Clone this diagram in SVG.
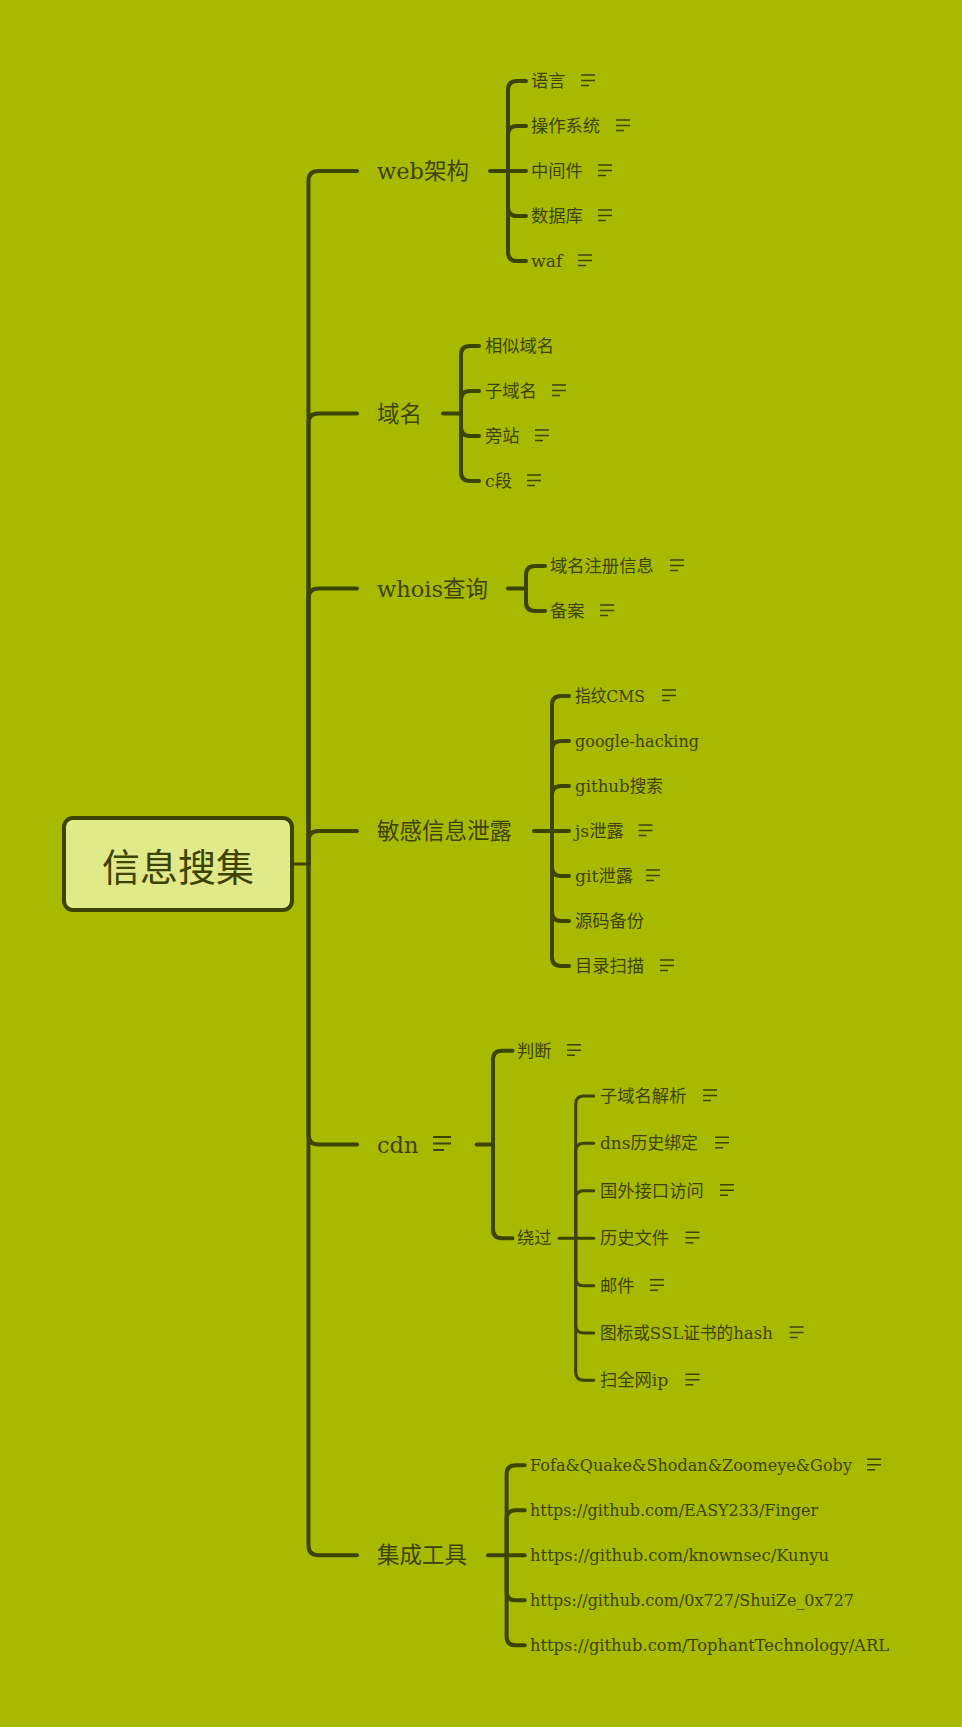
<svg xmlns="http://www.w3.org/2000/svg" xmlns:xlink="http://www.w3.org/1999/xlink" width="962" height="1727" viewBox="0 0 962 1727">
<style>
.bg{fill:#A8BA00}
.ln{fill:none;stroke:#3D4300;stroke-linecap:round;stroke-linejoin:round}
.l1{stroke-width:4}
.l2{stroke-width:4}
.l3{stroke-width:3}
.t{font-family:"DejaVu Serif","Noto Sans CJK SC",serif;fill:#3D4300;dominant-baseline:central}
.b{font-size:22.5px}
.c{font-size:17.3px}
.root{font-family:"Noto Sans CJK SC",sans-serif;font-size:38px;fill:#3D4300;text-anchor:middle;dominant-baseline:central}
.nt{fill:none;stroke:#3D4300;stroke-width:1.5}
.ntb{fill:none;stroke:#3D4300;stroke-width:2}
</style>
<defs>
<g id="note"><path class="nt" d="M0,-6 H14 M0,-0.5 H14 M0,4.5 H8"/></g>
<g id="noteb"><path class="ntb" d="M0,-7 H18 M0,-0.5 H18 M0,6 H11"/></g>
</defs>
<rect class="bg" x="0" y="0" width="962" height="1727"/>
<g id="connectors">
<path class="ln l3" d="M292,864 H308.5"/>
<path class="ln l1" d="M308.5,864 V181 Q308.5,171 318.5,171 H357"/>
<path class="ln l1" d="M308.5,864 V423 Q308.5,413.5 318.5,413.5 H357"/>
<path class="ln l1" d="M308.5,864 V598.5 Q308.5,588.5 318.5,588.5 H357"/>
<path class="ln l1" d="M308.5,864 V841 Q308.5,831 318.5,831 H357"/>
<path class="ln l1" d="M308.5,864 V1134.5 Q308.5,1144.5 318.5,1144.5 H357"/>
<path class="ln l1" d="M308.5,864 V1545.3 Q308.5,1555.3 318.5,1555.3 H357"/>
<!-- web -->
<path class="ln l2" d="M490,171 H526"/>
<path class="ln l2" d="M508,171 V90 Q508,81 517,81 H526"/>
<path class="ln l2" d="M508,171 V135 Q508,126 517,126 H526"/>
<path class="ln l2" d="M508,171 V207 Q508,216 517,216 H526"/>
<path class="ln l2" d="M508,171 V252 Q508,261 517,261 H526"/>
<!-- domain -->
<path class="ln l2" d="M443,413.5 H461"/>
<path class="ln l2" d="M461,413.5 V355 Q461,346 470,346 H479"/>
<path class="ln l2" d="M461,413.5 V400 Q461,391 470,391 H479"/>
<path class="ln l2" d="M461,413.5 V427 Q461,436 470,436 H479"/>
<path class="ln l2" d="M461,413.5 V472 Q461,481 470,481 H479"/>
<!-- whois -->
<path class="ln l2" d="M508,588.5 H526"/>
<path class="ln l2" d="M526,588.5 V575 Q526,566 535,566 H545"/>
<path class="ln l2" d="M526,588.5 V602 Q526,611 535,611 H545"/>
<!-- sensitive -->
<path class="ln l2" d="M534,831 H569"/>
<path class="ln l2" d="M552,831 V705 Q552,696 561,696 H569"/>
<path class="ln l2" d="M552,831 V750 Q552,741 561,741 H569"/>
<path class="ln l2" d="M552,831 V795 Q552,786 561,786 H569"/>
<path class="ln l2" d="M552,831 V867 Q552,876 561,876 H569"/>
<path class="ln l2" d="M552,831 V912 Q552,921 561,921 H569"/>
<path class="ln l2" d="M552,831 V957 Q552,966 561,966 H569"/>
<!-- cdn -->
<path class="ln l2" d="M476.6,1144.5 H493"/>
<path class="ln l2" d="M493,1144.5 V1059.7 Q493,1050.7 502,1050.7 H512.5"/>
<path class="ln l2" d="M493,1144.5 V1229.3 Q493,1238.3 502,1238.3 H512.5"/>
<path class="ln l3" d="M559,1238.3 H593.7"/>
<path class="ln l3" d="M575.7,1238.3 V1104 Q575.7,1096 583.7,1096 H593.7"/>
<path class="ln l3" d="M575.7,1238.3 V1151.3 Q575.7,1143.3 583.7,1143.3 H593.7"/>
<path class="ln l3" d="M575.7,1238.3 V1198.7 Q575.7,1190.7 583.7,1190.7 H593.7"/>
<path class="ln l3" d="M575.7,1238.3 V1277.7 Q575.7,1285.7 583.7,1285.7 H593.7"/>
<path class="ln l3" d="M575.7,1238.3 V1325 Q575.7,1333 583.7,1333 H593.7"/>
<path class="ln l3" d="M575.7,1238.3 V1372.3 Q575.7,1380.3 583.7,1380.3 H593.7"/>
<!-- tools -->
<path class="ln l2" d="M488,1555.3 H524.7"/>
<path class="ln l2" d="M506.6,1555.3 V1474.3 Q506.6,1465.3 515.6,1465.3 H524.7"/>
<path class="ln l2" d="M506.6,1555.3 V1519.3 Q506.6,1510.3 515.6,1510.3 H524.7"/>
<path class="ln l2" d="M506.6,1555.3 V1591.3 Q506.6,1600.3 515.6,1600.3 H524.7"/>
<path class="ln l2" d="M506.6,1555.3 V1636.3 Q506.6,1645.3 515.6,1645.3 H524.7"/>
</g>
<g id="root">
<rect x="64" y="818" width="228" height="92" rx="9" fill="#E0EA88" stroke="#3D4300" stroke-width="4"/>
<text class="root" x="178" y="864">信息搜集</text>
</g>
<g id="n-web"><text class="t b" x="377" y="171">web架构</text></g>
<g id="n-lang"><text class="t c" x="531" y="81">语言</text><use xlink:href="#note" x="581" y="81"/></g>
<g id="n-os"><text class="t c" x="531" y="126">操作系统</text><use xlink:href="#note" x="616" y="126"/></g>
<g id="n-mw"><text class="t c" x="531" y="171">中间件</text><use xlink:href="#note" x="598" y="171"/></g>
<g id="n-db"><text class="t c" x="531" y="216">数据库</text><use xlink:href="#note" x="598" y="216"/></g>
<g id="n-waf"><text class="t c" x="531" y="261">waf</text><use xlink:href="#note" x="578" y="261"/></g>
<g id="n-domain"><text class="t b" x="377" y="413.5">域名</text></g>
<g id="n-similar"><text class="t c" x="485" y="346">相似域名</text></g>
<g id="n-sub"><text class="t c" x="485" y="391">子域名</text><use xlink:href="#note" x="552" y="391"/></g>
<g id="n-side"><text class="t c" x="485" y="436">旁站</text><use xlink:href="#note" x="535" y="436"/></g>
<g id="n-c"><text class="t c" x="485" y="481">c段</text><use xlink:href="#note" x="527" y="481"/></g>
<g id="n-whois"><text class="t b" x="377" y="588.5">whois查询</text></g>
<g id="n-reg"><text class="t c" x="550" y="566">域名注册信息</text><use xlink:href="#note" x="670" y="566"/></g>
<g id="n-icp"><text class="t c" x="550" y="611">备案</text><use xlink:href="#note" x="600" y="611"/></g>
<g id="n-sens"><text class="t b" x="377" y="831">敏感信息泄露</text></g>
<g id="n-cms"><text class="t c" x="575" y="696" textLength="70" lengthAdjust="spacingAndGlyphs">指纹CMS</text><use xlink:href="#note" x="662" y="696"/></g>
<g id="n-gh"><text class="t c" x="575" y="741" textLength="124" lengthAdjust="spacingAndGlyphs">google-hacking</text></g>
<g id="n-ghs"><text class="t c" x="575" y="786" textLength="88" lengthAdjust="spacingAndGlyphs">github搜索</text></g>
<g id="n-js"><text class="t c" x="575" y="831">js泄露</text><use xlink:href="#note" x="638.5" y="831"/></g>
<g id="n-git"><text class="t c" x="575" y="876">git泄露</text><use xlink:href="#note" x="646" y="876"/></g>
<g id="n-src"><text class="t c" x="575" y="921">源码备份</text></g>
<g id="n-dir"><text class="t c" x="575" y="966">目录扫描</text><use xlink:href="#note" x="660" y="966"/></g>
<g id="n-cdn"><text class="t b" x="377" y="1144.5">cdn</text><use xlink:href="#noteb" x="433" y="1144"/></g>
<g id="n-judge"><text class="t c" x="517" y="1050.7">判断</text><use xlink:href="#note" x="567" y="1050.7"/></g>
<g id="n-bypass"><text class="t c" x="517" y="1238.3">绕过</text></g>
<g id="n-subres"><text class="t c" x="600" y="1096">子域名解析</text><use xlink:href="#note" x="703" y="1096"/></g>
<g id="n-dns"><text class="t c" x="600" y="1143.3" textLength="98" lengthAdjust="spacingAndGlyphs">dns历史绑定</text><use xlink:href="#note" x="715" y="1143.3"/></g>
<g id="n-foreign"><text class="t c" x="600" y="1190.7">国外接口访问</text><use xlink:href="#note" x="720" y="1190.7"/></g>
<g id="n-hist"><text class="t c" x="600" y="1238.3">历史文件</text><use xlink:href="#note" x="685.5" y="1238.3"/></g>
<g id="n-mail"><text class="t c" x="600" y="1285.7">邮件</text><use xlink:href="#note" x="650" y="1285.7"/></g>
<g id="n-hash"><text class="t c" x="600" y="1333" textLength="173" lengthAdjust="spacingAndGlyphs">图标或SSL证书的hash</text><use xlink:href="#note" x="789.6" y="1333"/></g>
<g id="n-scan"><text class="t c" x="600" y="1380.3">扫全网ip</text><use xlink:href="#note" x="685.5" y="1380.3"/></g>
<g id="n-tools"><text class="t b" x="377" y="1555.3">集成工具</text></g>
<g id="n-fofa"><text class="t c" x="530" y="1465.3" textLength="322" lengthAdjust="spacingAndGlyphs">Fofa&amp;Quake&amp;Shodan&amp;Zoomeye&amp;Goby</text><use xlink:href="#note" x="867" y="1465.3"/></g>
<g id="n-finger"><text class="t c" x="530" y="1510.3" textLength="288" lengthAdjust="spacingAndGlyphs">https://github.com/EASY233/Finger</text></g>
<g id="n-kunyu"><text class="t c" x="530" y="1555.3" textLength="299" lengthAdjust="spacingAndGlyphs">https://github.com/knownsec/Kunyu</text></g>
<g id="n-shuize"><text class="t c" x="530" y="1600.3" textLength="324" lengthAdjust="spacingAndGlyphs">https://github.com/0x727/ShuiZe_0x727</text></g>
<g id="n-arl"><text class="t c" x="530" y="1645.3" textLength="359" lengthAdjust="spacingAndGlyphs">https://github.com/TophantTechnology/ARL</text></g>
</svg>
